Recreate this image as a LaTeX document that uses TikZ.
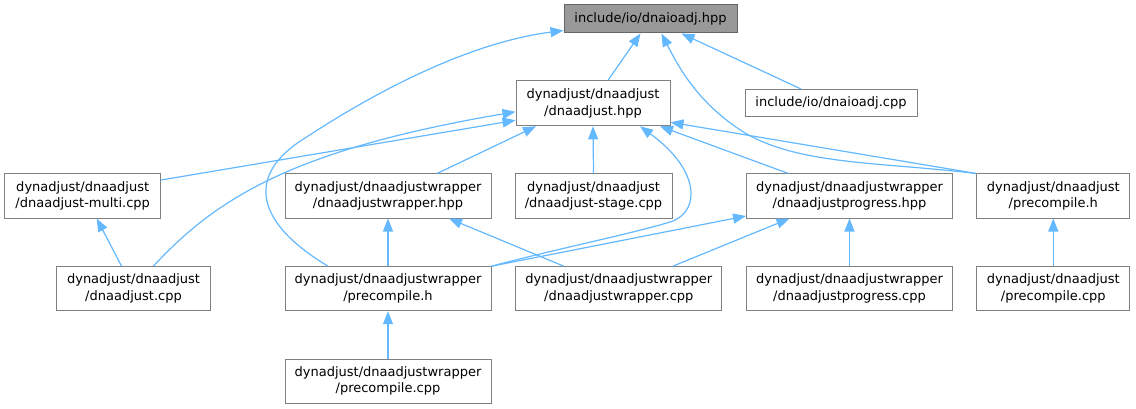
\documentclass[tikz,border=0pt]{standalone}
\usepackage{fontspec}
\setmainfont{DejaVu Sans}
\usetikzlibrary{arrows.meta}
\definecolor{edgeblue}{HTML}{63B8FF}
\definecolor{boxborder}{HTML}{808080}
\definecolor{rootfill}{HTML}{999999}
\definecolor{rootborder}{HTML}{666666}
\tikzset{
  box/.style={draw=boxborder, line width=1pt, fill=white, inner sep=0pt, align=center,
    font=\fontsize{13}{16.8}\selectfont, minimum height=44pt},
  rootbox/.style={box, fill=rootfill, draw=rootborder, minimum height=28pt},
  edge/.style={draw=edgeblue, line width=1.2pt, -{Triangle[length=13pt,width=10pt]}},
}
\begin{document}
\begin{tikzpicture}[x=1pt,y=-1pt]
\useasboundingbox (0,0) rectangle (1136,409);
% nodes
\node[rootbox, minimum width=173pt] (root) at (650.5,19) {include/io/dnaioadj.hpp};
\node[box, minimum width=154pt, minimum height=45pt] (hpp) at (593,103.3) {dynadjust/dnaadjust\\/dnaadjust.hpp};
\node[box, minimum width=172pt, minimum height=27pt] (iocpp) at (831,103) {include/io/dnaioadj.cpp};
\node[box, minimum width=156pt] (multi) at (82.7,196) {dynadjust/dnaadjust\\/dnaadjust-multi.cpp};
\node[box, minimum width=206pt] (whpp) at (388,196) {dynadjust/dnaadjustwrapper\\/dnaadjustwrapper.hpp};
\node[box, minimum width=157pt] (stage) at (593.5,196) {dynadjust/dnaadjust\\/dnaadjust-stage.cpp};
\node[box, minimum width=206pt] (phpp) at (849.5,196) {dynadjust/dnaadjustwrapper\\/dnaadjustprogress.hpp};
\node[box, minimum width=153pt] (dph) at (1053.3,196) {dynadjust/dnaadjust\\/precompile.h};
\node[box, minimum width=154pt] (dcpp) at (133.5,288.5) {dynadjust/dnaadjust\\/dnaadjust.cpp};
\node[box, minimum width=206pt] (wph) at (388,288.7) {dynadjust/dnaadjustwrapper\\/precompile.h};
\node[box, minimum width=206pt] (wcpp) at (618.8,288.7) {dynadjust/dnaadjustwrapper\\/dnaadjustwrapper.cpp};
\node[box, minimum width=206pt] (pcpp) at (849.5,288.7) {dynadjust/dnaadjustwrapper\\/dnaadjustprogress.cpp};
\node[box, minimum width=153pt] (dpcpp) at (1053.3,288.7) {dynadjust/dnaadjust\\/precompile.cpp};
\node[box, minimum width=206pt] (wpcpp) at (388,381) {dynadjust/dnaadjustwrapper\\/precompile.cpp};
% edges
\draw[edge] ([xshift=15pt]hpp.north) -- ([xshift=-10pt]root.south);
\draw[edge] ([xshift=-30pt]iocpp.north) -- ([xshift=31pt]root.south);
\draw[edge] (dph.north west) .. controls (880,162) and (800,165) .. (745,133)
  .. controls (700,105) and (680,70) .. ([xshift=11pt]root.south);
\draw[edge] ([xshift=-60pt]wph.north) .. controls (248,218) and (252,172) .. (302,140)
  .. controls (340,115) and (450,45) .. ([yshift=3pt]root.south west);
\draw[edge] ([yshift=16pt]multi.east) -- ([yshift=-17pt]hpp.west);
\draw[edge] ([xshift=20pt]dcpp.north) .. controls (215,200) and (290,150) .. ([yshift=-8.5pt]hpp.west);
\draw[edge] ([xshift=49pt]whpp.north) -- ([xshift=-57pt]hpp.south);
\draw[edge] (stage.north) -- (hpp.south);
\draw[edge] (wph.north east) .. controls (560,248) and (640,232) .. (673,221)
  .. controls (700,210) and (700,170) .. ([xshift=47pt]hpp.south);
\draw[edge] ([xshift=-61pt]phpp.north) -- ([xshift=67pt]hpp.south);
\draw[edge] (dph.north west) -- ([yshift=-19pt]hpp.east);
\draw[edge] ([xshift=-12pt]dcpp.north) -- ([xshift=14pt]multi.south);
\draw[edge] (wph.north) -- (whpp.south);
\draw[edge] ([xshift=-55pt]wcpp.north) -- ([xshift=61pt]whpp.south);
\draw[edge] (wph.north east) -- ([yshift=-20pt]phpp.west);
\draw[edge] ([xshift=54pt]wcpp.north) -- ([xshift=-60pt]phpp.south);
\draw[edge] (pcpp.north) -- (phpp.south);
\draw[edge] (dpcpp.north) -- (dph.south);
\draw[edge] (wpcpp.north) -- (wph.south);
\end{tikzpicture}
\end{document}
